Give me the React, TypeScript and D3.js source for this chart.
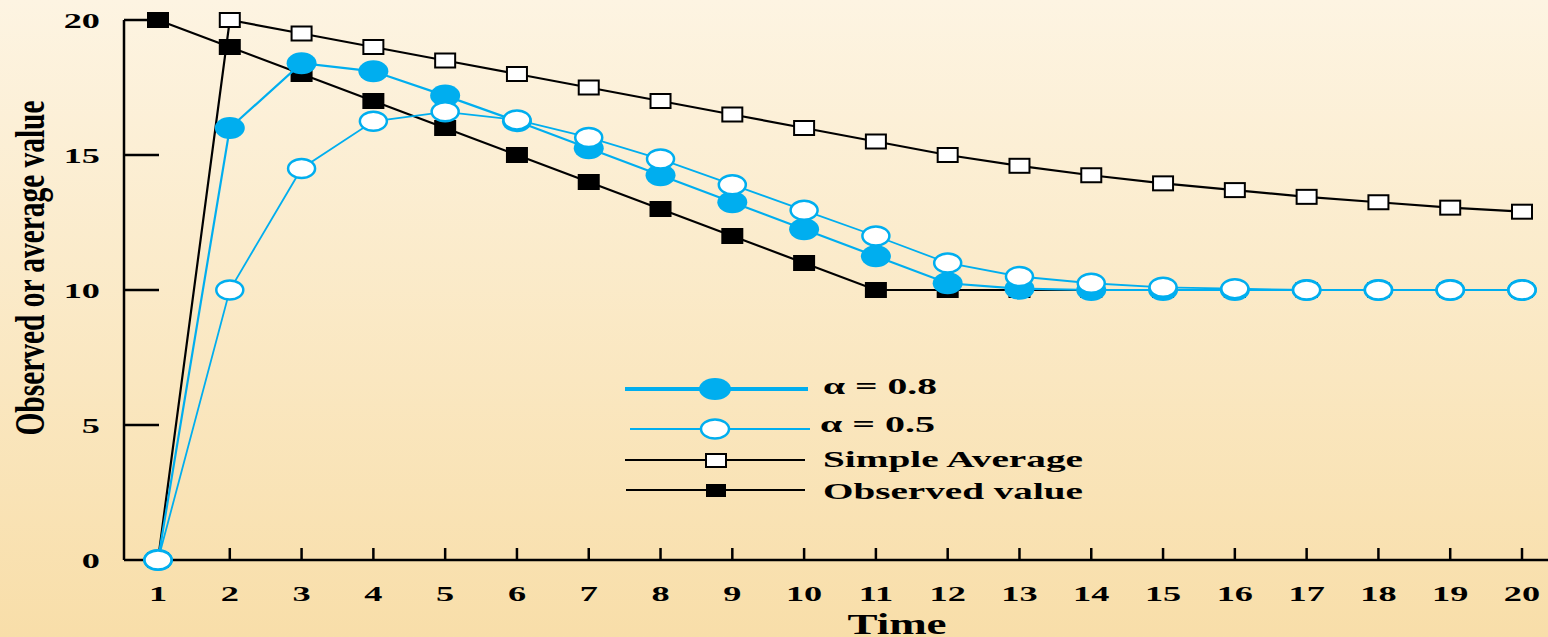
import React from 'react'
import * as d3 from 'd3'

const W = 1548
const H = 637

const TIME = [1, 2, 3, 4, 5, 6, 7, 8, 9, 10, 11, 12, 13, 14, 15, 16, 17, 18, 19, 20]
const OBSERVED = [20, 19, 18, 17, 16, 15, 14, 13, 12, 11, 10, 10, 10, 10, 10, 10, 10, 10, 10, 10]
const SIMPLE_AVG = [0, 20, 19.5, 19, 18.5, 18, 17.5, 17, 16.5, 16, 15.5, 15, 14.6, 14.25, 13.95, 13.7, 13.45, 13.25, 13.05, 12.9]
const ALPHA_08 = [0, 16, 18.4, 18.1, 17.2, 16.25, 15.25, 14.25, 13.25, 12.25, 11.25, 10.25, 10.05, 10, 10, 10, 10, 10, 10, 10]
const ALPHA_05 = [0, 10, 14.5, 16.25, 16.6, 16.3, 15.65, 14.85, 13.9, 12.95, 12, 11, 10.5, 10.25, 10.1, 10.05, 10, 10, 10, 10]
const Y_TICKS = [0, 5, 10, 15, 20]

const BLUE = '#00aeef'
const FONT = '"Liberation Serif", "Times New Roman", serif'

const x = d3.scaleLinear().domain([1, 20]).range([158, 1522])
const y = d3.scaleLinear().domain([0, 20]).range([560, 20])

const lineGen = d3
  .line<number>()
  .x((_, i) => x(TIME[i]))
  .y((d) => y(d))

function Wide({ x: tx, y: ty, sx = 1.65, size = 22, anchor = 'middle', children }: any) {
  return (
    <text
      transform={`translate(${tx},${ty}) scale(${sx},1)`}
      fontFamily={FONT}
      fontWeight="bold"
      fontSize={size}
      textAnchor={anchor}
      fill="#000"
    >
      {children}
    </text>
  )
}

function Square({ cx, cy, filled }: any) {
  return (
    <rect
      x={cx - 10}
      y={cy - 7}
      width={20}
      height={14}
      fill={filled ? '#000' : '#fff'}
      stroke="#000"
      strokeWidth={2}
    />
  )
}

export default function App() {
  const ax0 = 124
  return (
    <svg width={W} height={H} style={{ position: 'absolute', left: 0, top: 0, display: 'block' }}>
      <defs>
        <linearGradient id="bg" x1="0" y1="0" x2="0" y2="1">
          <stop offset="0" stopColor="#fdf4e2" />
          <stop offset="1" stopColor="#f8dea9" />
        </linearGradient>
      </defs>
      <rect width={W} height={H} fill="url(#bg)" />

      {/* axes */}
      <line x1={ax0} x2={ax0} y1={y(20)} y2={y(0)} stroke="#000" strokeWidth={2.5} />
      <line x1={ax0} x2={W} y1={y(0)} y2={y(0)} stroke="#000" strokeWidth={2.5} />
      {Y_TICKS.filter((t) => t > 0).map((t) => (
        <line key={t} x1={ax0} x2={ax0 + 35} y1={y(t)} y2={y(t)} stroke="#000" strokeWidth={2.5} />
      ))}
      {TIME.filter((t) => t > 1).map((t) => (
        <line key={t} x1={x(t)} x2={x(t)} y1={y(0)} y2={y(0) - 12} stroke="#000" strokeWidth={2.5} />
      ))}
      {Y_TICKS.map((t) => (
        <Wide key={t} x={100} y={y(t) + 8} anchor="end">
          {t}
        </Wide>
      ))}
      {TIME.map((t) => (
        <Wide key={t} x={x(t)} y={601}>
          {t}
        </Wide>
      ))}
      <Wide x={897} y={634} size={30} sx={1.5}>
        Time
      </Wide>
      <text
        transform="translate(44,268) rotate(-90)"
        fontFamily={FONT}
        fontWeight="bold"
        fontSize={42}
        textAnchor="middle"
        textLength={335}
        lengthAdjust="spacingAndGlyphs"
      >
        Observed or average value
      </text>

      {/* observed */}
      <path d={lineGen(OBSERVED) || ''} fill="none" stroke="#000" strokeWidth={2.2} />
      {OBSERVED.map((v, i) => (
        <Square key={i} cx={x(TIME[i])} cy={y(v)} filled />
      ))}

      {/* simple average */}
      <path d={lineGen(SIMPLE_AVG) || ''} fill="none" stroke="#000" strokeWidth={2.2} />
      {SIMPLE_AVG.map((v, i) => (
        <Square key={i} cx={x(TIME[i])} cy={y(v)} />
      ))}

      {/* alpha = 0.8 */}
      <path d={lineGen(ALPHA_08) || ''} fill="none" stroke={BLUE} strokeWidth={2.2} />
      {ALPHA_08.map((v, i) => (
        <ellipse key={i} cx={x(TIME[i])} cy={y(v)} rx={15} ry={11} fill={BLUE} />
      ))}

      {/* alpha = 0.5 */}
      <path d={lineGen(ALPHA_05) || ''} fill="none" stroke={BLUE} strokeWidth={1.8} />
      {ALPHA_05.map((v, i) => (
        <ellipse key={i} cx={x(TIME[i])} cy={y(v)} rx={13.5} ry={9.5} fill="#fff" stroke={BLUE} strokeWidth={2.5} />
      ))}

      {/* legend */}
      <g>
        <line x1={625} x2={808} y1={389} y2={389} stroke={BLUE} strokeWidth={4} />
        <ellipse cx={715} cy={389} rx={16} ry={11} fill={BLUE} />
        <text x={823} y={394} fontFamily={FONT} fontWeight="bold" fontSize={24} textLength={114} lengthAdjust="spacingAndGlyphs">
          α = 0.8
        </text>

        <line x1={630} x2={810} y1={429} y2={429} stroke={BLUE} strokeWidth={2} />
        <ellipse cx={715} cy={429} rx={14} ry={9.5} fill="#fff" stroke={BLUE} strokeWidth={2.5} />
        <text x={820} y={432} fontFamily={FONT} fontWeight="bold" fontSize={24} textLength={115} lengthAdjust="spacingAndGlyphs">
          α = 0.5
        </text>

        <line x1={625} x2={805} y1={460} y2={460} stroke="#000" strokeWidth={2} />
        <rect x={706} y={454} width={20} height={13} fill="#fff" stroke="#000" strokeWidth={2} />
        <text x={823} y={467} fontFamily={FONT} fontWeight="bold" fontSize={24} textLength={260} lengthAdjust="spacingAndGlyphs">
          Simple Average
        </text>

        <line x1={626} x2={805} y1={490} y2={490} stroke="#000" strokeWidth={2} />
        <rect x={706} y={484} width={20} height={13} fill="#000" />
        <text x={823} y={499} fontFamily={FONT} fontWeight="bold" fontSize={24} textLength={260} lengthAdjust="spacingAndGlyphs">
          Observed value
        </text>
      </g>
    </svg>
  )
}
